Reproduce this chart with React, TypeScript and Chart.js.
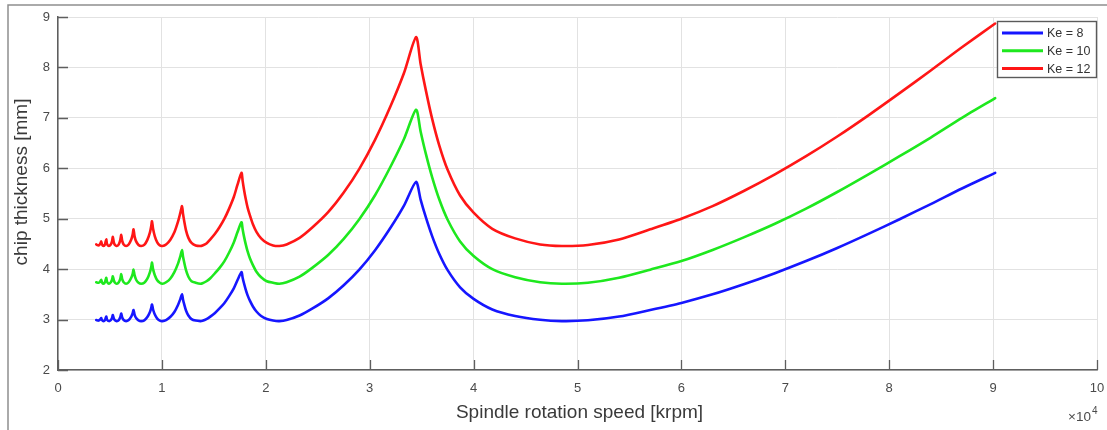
import { useEffect, useRef } from "react";
import { Chart, registerables } from "chart.js";

Chart.register(...registerables);

// Spindle rotation speed [rpm]
const speedRpm = [
  3680, 3900, 4050, 4160, 4230, 4380, 4520, 4640, 4720, 4900,
  5080, 5200, 5280, 5370, 5480, 5650, 5850, 6000, 6090, 6180,
  6320, 6550, 6800, 7050, 7180, 7270, 7370, 7520, 7750, 8000,
  8300, 8600, 8850, 8970, 9050, 9150, 9320, 9550, 9800, 10050,
  10400, 10800, 11200, 11550, 11780, 11940, 12030, 12150, 12320, 12550,
  12850, 13250, 13700, 13910, 14290, 14660, 15110, 15570, 16020, 16470,
  16920, 17270, 17660, 17770, 17900, 18060, 18250, 18480, 18760, 19100,
  19550, 20100, 20700, 21300, 22000, 23250, 24500, 26000, 27500, 29000,
  30500, 32000, 33300, 34460, 34900, 35400, 36000, 36700, 37500, 38700,
  40000, 41800, 44000, 46400, 48500, 51000, 54000, 57000, 60000, 63000,
  66000, 69000, 72000, 75000, 78000, 81000, 84000, 87000, 90200,
];

// chip thickness [mm], Ke = 8
const ke8 = [
  2.99, 2.98, 3.0, 3.03, 2.99, 2.97, 2.99, 3.06, 3.0, 2.97,
  2.99, 3.03, 3.09, 3.02, 2.985, 2.97, 2.99, 3.05, 3.12, 3.04,
  2.99, 2.97, 2.99, 3.06, 3.12, 3.19, 3.1, 3.03, 2.985, 2.97,
  2.985, 3.05, 3.15, 3.23, 3.3, 3.2, 3.1, 3.02, 2.98, 2.97,
  2.99, 3.05, 3.15, 3.29, 3.41, 3.5, 3.4, 3.3, 3.18, 3.08,
  3.01, 2.98, 2.97, 2.977, 3.009, 3.058, 3.132, 3.226, 3.33, 3.465,
  3.62, 3.78, 3.94, 3.83, 3.72, 3.6, 3.48, 3.37, 3.26, 3.16,
  3.07, 3.01, 2.98, 2.97, 2.99, 3.08, 3.22, 3.42, 3.68, 3.99,
  4.37, 4.82, 5.26, 5.73, 5.38, 5.03, 4.66, 4.3, 3.98, 3.64,
  3.41, 3.2, 3.07, 2.995, 2.97, 2.985, 3.06, 3.19, 3.33, 3.5,
  3.7, 3.92, 4.16, 4.42, 4.7, 4.99, 5.29, 5.6, 5.91,
];

// chip thickness [mm], Ke = 10
const ke10 = [
  3.74, 3.73, 3.75, 3.79, 3.74, 3.71, 3.74, 3.83, 3.75, 3.71,
  3.74, 3.79, 3.86, 3.78, 3.73, 3.71, 3.74, 3.81, 3.9, 3.8,
  3.74, 3.71, 3.74, 3.83, 3.9, 3.99, 3.88, 3.79, 3.73, 3.71,
  3.73, 3.81, 3.94, 4.04, 4.13, 4.0, 3.88, 3.78, 3.73, 3.71,
  3.74, 3.81, 3.94, 4.11, 4.26, 4.38, 4.25, 4.13, 3.98, 3.85,
  3.76, 3.73, 3.71, 3.72, 3.76, 3.82, 3.92, 4.03, 4.16, 4.33,
  4.53, 4.73, 4.93, 4.79, 4.65, 4.5, 4.35, 4.21, 4.08, 3.95,
  3.84, 3.76, 3.73, 3.71, 3.74, 3.85, 4.03, 4.28, 4.6, 4.99,
  5.46, 6.03, 6.58, 7.16, 6.73, 6.29, 5.83, 5.38, 4.98, 4.55,
  4.26, 4.0, 3.84, 3.74, 3.71, 3.73, 3.83, 3.99, 4.16, 4.38,
  4.63, 4.9, 5.2, 5.53, 5.88, 6.24, 6.61, 7.0, 7.39,
];

// chip thickness [mm], Ke = 12
const ke12 = [
  4.49, 4.47, 4.5, 4.55, 4.49, 4.46, 4.49, 4.59, 4.5, 4.46,
  4.49, 4.55, 4.64, 4.53, 4.48, 4.46, 4.49, 4.58, 4.68, 4.56,
  4.49, 4.46, 4.49, 4.59, 4.68, 4.79, 4.65, 4.55, 4.48, 4.46,
  4.48, 4.58, 4.73, 4.85, 4.95, 4.8, 4.65, 4.53, 4.47, 4.46,
  4.49, 4.58, 4.73, 4.94, 5.12, 5.25, 5.1, 4.95, 4.77, 4.62,
  4.52, 4.47, 4.46, 4.47, 4.51, 4.59, 4.7, 4.84, 5.0, 5.2,
  5.43, 5.67, 5.91, 5.75, 5.58, 5.4, 5.22, 5.06, 4.89, 4.74,
  4.61, 4.52, 4.47, 4.46, 4.49, 4.62, 4.83, 5.13, 5.52, 5.99,
  6.56, 7.23, 7.89, 8.6, 8.07, 7.55, 6.99, 6.45, 5.97, 5.46,
  5.12, 4.8, 4.61, 4.49, 4.46, 4.48, 4.59, 4.79, 5.0, 5.25,
  5.55, 5.88, 6.24, 6.63, 7.05, 7.49, 7.94, 8.4, 8.87,
];

const seriesLabels = ["Ke = 8", "Ke = 10", "Ke = 12"];
const seriesColors = ["#1616ff", "#1ee81e", "#ff1616"];
const xTitle = "Spindle rotation speed [krpm]";
const yTitle = "chip thickness [mm]";
const xExponentBase = "\u00d710";
const xExponent = "4";

const FONT = "'Liberation Sans', Arial, Helvetica, sans-serif";
const AXIS_COLOR = "#5e5e5e";
const TEXT_COLOR = "#4a4a4a";

const decorPlugin = {
  id: "decor",
  afterDraw(chart: any) {
    const { ctx, chartArea, scales } = chart;
    const xs = scales.x;
    const ys = scales.y;
    ctx.save();

    // inward tick marks
    ctx.strokeStyle = AXIS_COLOR;
    ctx.lineWidth = 1.3;
    ctx.beginPath();
    xs.ticks.forEach((t: any) => {
      const px = Math.round(xs.getPixelForValue(t.value)) + 0.5;
      ctx.moveTo(px, chartArea.bottom);
      ctx.lineTo(px, chartArea.bottom - 10);
    });
    ys.ticks.forEach((t: any) => {
      const py = Math.round(ys.getPixelForValue(t.value)) + 0.5;
      ctx.moveTo(chartArea.left, py);
      ctx.lineTo(chartArea.left + 10, py);
    });
    ctx.stroke();

    // axis titles
    ctx.fillStyle = "#3a3a3a";
    ctx.font = `19px ${FONT}`;
    ctx.textAlign = "center";
    ctx.textBaseline = "middle";
    ctx.fillText(xTitle, (chartArea.left + chartArea.right) / 2 + 2, 413);
    ctx.save();
    ctx.translate(22, 182);
    ctx.rotate(-Math.PI / 2);
    ctx.fillText(yTitle, 0, 0);
    ctx.restore();

    // exponent label
    ctx.fillStyle = TEXT_COLOR;
    ctx.textAlign = "right";
    ctx.textBaseline = "middle";
    ctx.font = `13.5px ${FONT}`;
    ctx.fillText(xExponentBase, 1091, 417);
    ctx.textAlign = "left";
    ctx.font = `10px ${FONT}`;
    ctx.fillText(xExponent, 1092, 411);

    // legend
    const lx = 997;
    const ly = 21;
    const lw = 99;
    const lh = 56;
    ctx.fillStyle = "#ffffff";
    ctx.fillRect(lx, ly, lw, lh);
    ctx.strokeStyle = "#5a5a5a";
    ctx.lineWidth = 1.4;
    ctx.strokeRect(lx + 0.5, ly + 0.5, lw, lh);
    ctx.font = `12.5px ${FONT}`;
    ctx.textAlign = "left";
    ctx.textBaseline = "middle";
    chart.data.datasets.forEach((ds: any, i: number) => {
      const y = ly + 12 + i * 17.8;
      ctx.strokeStyle = ds.borderColor;
      ctx.lineWidth = 3;
      ctx.beginPath();
      ctx.moveTo(lx + 5, y);
      ctx.lineTo(lx + 46, y);
      ctx.stroke();
      ctx.fillStyle = "#333333";
      ctx.fillText(ds.label, lx + 50, y + 0.5);
    });

    // outer figure frame
    ctx.strokeStyle = "#8e8e8e";
    ctx.lineWidth = 1.5;
    ctx.beginPath();
    ctx.moveTo(8, 430);
    ctx.lineTo(8, 5);
    ctx.lineTo(1107, 5);
    ctx.stroke();

    ctx.restore();
  },
};

export default function App() {
  const canvasRef = useRef<HTMLCanvasElement | null>(null);

  useEffect(() => {
    if (!canvasRef.current) return;
    const series = [ke8, ke10, ke12];
    const chart = new Chart(canvasRef.current, {
      type: "scatter",
      data: {
        datasets: series.map((vals, i) => ({
          label: seriesLabels[i],
          data: speedRpm.map((x, j) => ({ x, y: vals[j] })),
          showLine: true,
          borderColor: seriesColors[i],
          backgroundColor: seriesColors[i],
          borderWidth: 2.6,
          borderJoinStyle: "round" as const,
          borderCapStyle: "round" as const,
          pointRadius: 0,
          pointHoverRadius: 0,
          tension: 0.25,
        })),
      },
      options: {
        animation: false,
        responsive: false,
        devicePixelRatio: 1,
        layout: { padding: { top: 17, right: 10, left: 0, bottom: 0 } },
        plugins: {
          legend: { display: false },
          tooltip: { enabled: false },
          title: { display: false },
        },
        scales: {
          x: {
            type: "linear",
            min: 0,
            max: 100000,
            afterFit: (s: any) => {
              s.height = 60;
              s.paddingLeft = 0;
              s.paddingRight = 0;
            },
            ticks: {
              stepSize: 10000,
              autoSkip: false,
              maxRotation: 0,
              padding: 11,
              color: TEXT_COLOR,
              font: { family: FONT, size: 13 },
              callback: (v: any) => String(Number(v) / 10000),
            },
            grid: { color: "#e2e2e2", lineWidth: 1, drawTicks: false },
            border: { display: true, color: AXIS_COLOR, width: 1.5 },
          },
          y: {
            type: "linear",
            min: 2,
            max: 9,
            afterFit: (s: any) => {
              s.width = 58;
            },
            ticks: {
              stepSize: 1,
              padding: 8,
              color: TEXT_COLOR,
              font: { family: FONT, size: 13 },
            },
            grid: { color: "#e2e2e2", lineWidth: 1, drawTicks: false },
            border: { display: true, color: AXIS_COLOR, width: 1.5 },
          },
        },
      },
      plugins: [decorPlugin],
    });
    return () => chart.destroy();
  }, []);

  return (
    <div style={{ position: "absolute", left: 0, top: 0, width: 1107, height: 430, background: "#ffffff" }}>
      <canvas ref={canvasRef} width={1107} height={430} style={{ width: 1107, height: 430, display: "block" }} />
    </div>
  );
}
